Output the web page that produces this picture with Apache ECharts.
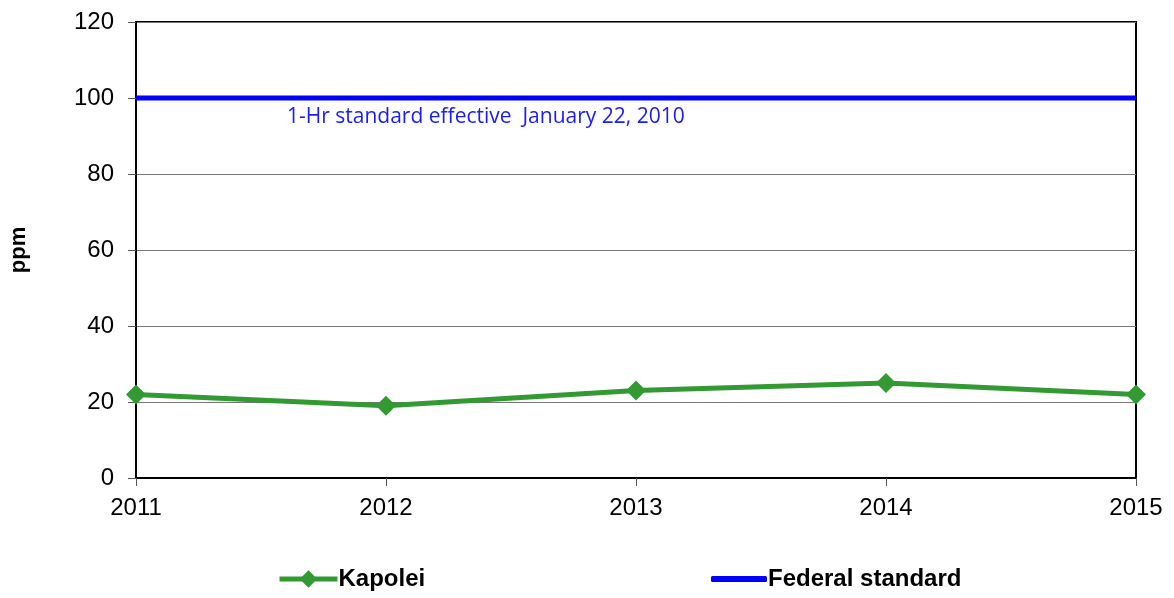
<!DOCTYPE html>
<html>
<head>
<meta charset="utf-8">
<script src="https://cdn.jsdelivr.net/npm/echarts@6/dist/echarts.min.js"></script>
<style>
  html, body { margin: 0; padding: 0; background: #fff; }
  #chart { width: 1174px; height: 598px; }
</style>
</head>
<body>
<div id="chart"></div>
<script>
// years on the x axis
let years = ['2011', '2012', '2013', '2014', '2015'];
// Kapolei 1-hr SO2, ppm
let kapolei = [22, 19, 23, 25, 22];
// federal 1-hr standard
let federal = [100, 100, 100, 100, 100];
let yTicks = { min: 0, max: 120, step: 20 };

let chart = echarts.init(document.getElementById('chart'));

let legendText = { fontSize: 24, fontWeight: 'bold', color: '#000', padding: [0, 0, 0, -4] };

let option = {
    animation: false,
    backgroundColor: '#fff',
    textStyle: { fontFamily: 'Liberation Sans, Arial, sans-serif' },
    grid: {
        left: 136,
        right: 38,
        top: 22,
        bottom: 120,
        show: true,
        borderColor: '#000',
        borderWidth: 2
    },
    legend: [
        {
            left: 277,
            top: 567,
            padding: 0,
            itemWidth: 58,
            itemHeight: 22,
            lineStyle: { width: 5 },
            textStyle: legendText,
            data: ['Kapolei']
        },
        {
            left: 711,
            top: 567,
            padding: 0,
            itemWidth: 56,
            itemHeight: 6,
            icon: 'roundRect',
            textStyle: legendText,
            data: ['Federal standard']
        }
    ],
    xAxis: {
        type: 'category',
        data: years,
        boundaryGap: false,
        axisLine: { lineStyle: { color: '#000', width: 2 } },
        axisTick: { show: true, length: 8, lineStyle: { color: '#555' } },
        axisLabel: { fontSize: 24, color: '#000', margin: 18 },
        splitLine: { show: false }
    },
    yAxis: {
        type: 'value',
        min: yTicks.min,
        max: yTicks.max,
        interval: yTicks.step,
        name: 'ppm',
        nameLocation: 'middle',
        nameGap: 106,
        nameTextStyle: { fontSize: 22, fontWeight: 'bold', color: '#000' },
        axisLine: { show: true, lineStyle: { color: '#000', width: 2 } },
        axisTick: { show: true, length: 8, lineStyle: { color: '#555' } },
        axisLabel: { fontSize: 24, color: '#000', margin: 22 },
        splitLine: { show: true, lineStyle: { color: '#777', width: 1 } }
    },
    series: [
        {
            name: 'Kapolei',
            type: 'line',
            data: kapolei,
            symbol: 'diamond',
            symbolSize: 20,
            itemStyle: { color: '#339933' },
            lineStyle: { color: '#339933', width: 5 },
            z: 3
        },
        {
            name: 'Federal standard',
            type: 'line',
            data: federal,
            symbol: 'none',
            itemStyle: { color: '#0000ff' },
            lineStyle: { color: '#0000ff', width: 5 },
            z: 2
        }
    ],
    graphic: [
        {
            type: 'text',
            left: 287,
            top: 107,
            style: {
                text: '1-Hr standard effective  January 22, 2010',
                fill: '#1a1aff',
                font: '21px "Open Sans", sans-serif'
            }
        }
    ]
};

chart.setOption(option);
</script>
</body>
</html>
